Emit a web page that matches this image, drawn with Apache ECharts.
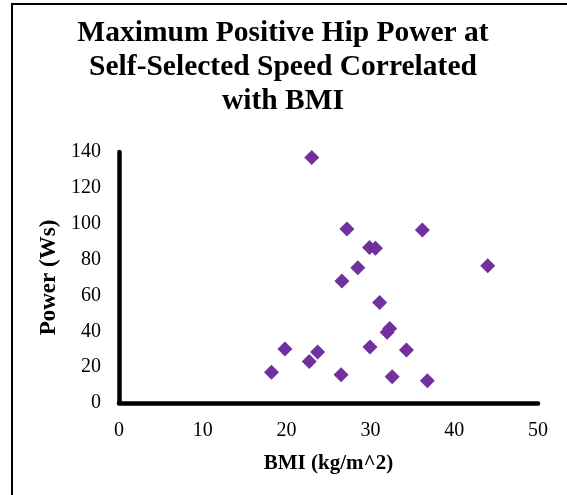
<!DOCTYPE html>
<html>
<head>
<meta charset="utf-8">
<script src="https://cdn.jsdelivr.net/npm/echarts@6/dist/echarts.min.js"></script>
<style>
  html, body { margin: 0; padding: 0; background: #fff; }
  #chart { width: 567px; height: 495px; }
</style>
</head>
<body>
<div id="chart"></div>
<script>
// BMI (kg/m^2) per subject
const bmi = [23.0, 27.2, 36.2, 29.9, 30.6, 44.0, 28.5, 26.6, 31.1, 32.3,
             32.0, 19.8, 23.7, 29.95, 34.3, 22.7, 18.2, 26.5, 32.6, 36.8]
// max positive hip power (Ws)
const power = [137, 97, 96.5, 86.8, 86.3, 76.6, 75.5, 68, 56, 41.6,
               39.4, 30.1, 28.4, 31.2, 29.6, 23.2, 17.1, 15.8, 14.7, 12.4]
const xTicks = [0, 10, 20, 30, 40, 50]
const yTicks = [0, 20, 40, 60, 80, 100, 120, 140]

const points = bmi.map((b, i) => [b, power[i]])
const serif = '"Liberation Serif", "DejaVu Serif", serif'

const chart = echarts.init(document.getElementById('chart'))
chart.setOption({
  animation: false,
  backgroundColor: '#fff',
  title: {
    text: 'Maximum Positive Hip Power at\nSelf-Selected Speed Correlated\nwith BMI',
    left: 278,
    top: 11,
    textAlign: 'center',
    textStyle: {
      fontFamily: serif,
      fontWeight: 'bold',
      fontSize: 29.5,
      lineHeight: 34,
      color: '#000'
    }
  },
  graphic: [
    {
      type: 'rect',
      shape: { x: 12, y: 4, width: 620, height: 560 },
      style: { fill: 'none', stroke: '#000', lineWidth: 2 },
      silent: true
    }
  ],
  grid: {
    left: 119,
    right: 29,
    top: 152,
    bottom: 92
  },
  xAxis: {
    type: 'value',
    min: xTicks[0],
    max: xTicks[xTicks.length - 1],
    interval: 10,
    name: 'BMI (kg/m^2)',
    nameLocation: 'middle',
    nameGap: 50,
    nameTextStyle: { fontFamily: serif, fontWeight: 'bold', fontSize: 21, color: '#000' },
    axisLine: { show: true, lineStyle: { color: '#000', width: 4.5 } },
    axisTick: { show: false },
    splitLine: { show: false },
    axisLabel: { fontFamily: serif, fontSize: 20, color: '#000', margin: 18 }
  },
  yAxis: {
    type: 'value',
    min: yTicks[0],
    max: yTicks[yTicks.length - 1],
    interval: 20,
    name: 'Power (Ws)',
    nameLocation: 'middle',
    nameGap: 53,
    nameTextStyle: { fontFamily: serif, fontWeight: 'bold', fontSize: 23, color: '#000' },
    axisLine: { show: true, lineStyle: { color: '#000', width: 4.5 } },
    axisTick: { show: false },
    splitLine: { show: false },
    axisLabel: { fontFamily: serif, fontSize: 20, color: '#000', margin: 18, padding: [3, 0, 0, 0] }
  },
  series: [
    {
      type: 'scatter',
      symbol: 'diamond',
      symbolSize: 15,
      itemStyle: { color: '#7030A0', opacity: 1 },
      data: points
    }
  ]
})
</script>
</body>
</html>
